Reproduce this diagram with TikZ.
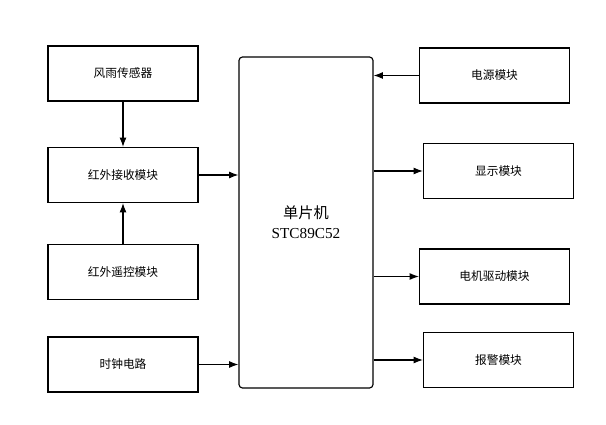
\documentclass[tikz,border=0pt]{standalone}
\usepackage{fontspec}
\setmainfont{Noto Sans CJK SC}
\newfontfamily\chipfont{Liberation Serif}
\usetikzlibrary{arrows.meta}

\begin{document}
\begin{tikzpicture}[x=0.03cm, y=-0.03cm,
    block/.style={draw, line width=1pt, minimum width=150*0.03cm, minimum height=55*0.03cm, font=\fontsize{10}{12}\selectfont},
    link/.style={line width=1pt, -{Latex[length=8pt,width=6pt]}}]
    \useasboundingbox (0,0) rectangle (606,425);

    % left column
    \node [block] (sensor) at (123, 73.5) {风雨传感器};
    \node [block] (receiver) at (123, 175) {红外接收模块};
    \node [block] (remote) at (123, 272) {红外遥控模块};
    \node [block] (clock) at (123, 364.5) {时钟电路};

    % controller
    \node [draw, line width=1pt, rounded corners=3pt, minimum width=134*0.03cm, minimum height=331*0.03cm, align=center, font=\fontsize{13}{17}\selectfont] (mcu) at (306, 222.5) {单片机\\{\chipfont STC89C52}};

    % right column
    \node [block] (power) at (494.5, 75.5) {电源模块};
    \node [block] (display) at (498.5, 171) {显示模块};
    \node [block] (motor) at (494.5, 276.5) {电机驱动模块};
    \node [block] (alarm) at (498.5, 360) {报警模块};

    \draw [link] (sensor) -- (receiver);
    \draw [link] (remote) -- (receiver);
    \draw [link] (receiver.east) -- (receiver.east -| mcu.west);
    \draw [link] (clock.east) -- (clock.east -| mcu.west);
    \draw [link] (power.west) -- (power.west -| mcu.east);
    \draw [link] (display.west -| mcu.east) -- (display.west);
    \draw [link] (motor.west -| mcu.east) -- (motor.west);
    \draw [link] (alarm.west -| mcu.east) -- (alarm.west);
\end{tikzpicture}
\end{document}
